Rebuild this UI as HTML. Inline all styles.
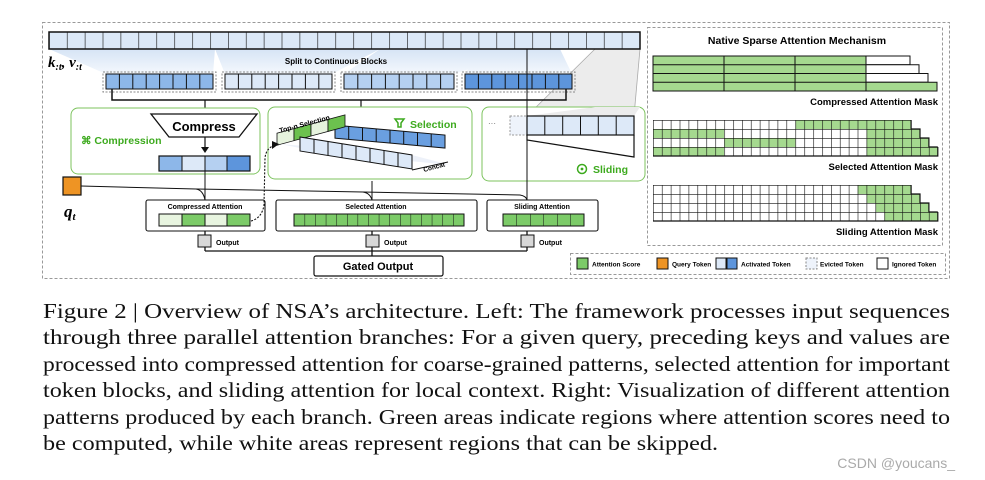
<!DOCTYPE html>
<html><head><meta charset="utf-8"><style>
html,body{margin:0;padding:0;background:#fff;width:985px;height:480px;overflow:hidden}
svg{display:block}
.b{font-family:"Liberation Sans",sans-serif;font-weight:bold}
.cap{font-family:"Liberation Serif",serif;font-size:21px;fill:#111}
</style></head><body>
<svg width="985" height="480" viewBox="0 0 985 480" xmlns="http://www.w3.org/2000/svg">
<defs>
<pattern id="top" patternUnits="userSpaceOnUse" x="49" y="0" width="17.9" height="480"><line x1="0" y1="0" x2="0" y2="480" stroke="#111" stroke-width="1.2"/></pattern>
<pattern id="gs" patternUnits="userSpaceOnUse" x="653" y="120" width="8.9" height="9"><path d="M0 0H8.9M0 0V9" fill="none" stroke="#111" stroke-width="1.2"/></pattern>
<pattern id="gw" patternUnits="userSpaceOnUse" x="653" y="185" width="8.9" height="9"><path d="M0 0H8.9M0 0V9" fill="none" stroke="#111" stroke-width="1.2"/></pattern>
<pattern id="sa" patternUnits="userSpaceOnUse" x="294" y="0" width="10.6" height="480"><line x1="0" y1="0" x2="0" y2="480" stroke="#111" stroke-width="1"/></pattern>
<pattern id="sl" patternUnits="userSpaceOnUse" x="503" y="0" width="13.5" height="480"><line x1="0" y1="0" x2="0" y2="480" stroke="#111" stroke-width="1"/></pattern>
<linearGradient id="fan" x1="0" y1="0" x2="0" y2="1"><stop offset="0" stop-color="#d6e4f5"/><stop offset="1" stop-color="#f4f8fd"/></linearGradient>
</defs>

<rect x="42.5" y="22.5" width="907" height="256" fill="none" stroke="#999" stroke-dasharray="3,2"/>
<polygon points="49,49 215,49 213,74 106,74" fill="url(#fan)"/>
<polygon points="215,49 380,49 332,74 225,74" fill="url(#fan)"/>
<polygon points="380,49 530,49 454,74 344,74" fill="url(#fan)"/>
<polygon points="480,49 560,49 572,74 465,74" fill="url(#fan)"/>
<polygon points="595,49 640,49 634,116 527,116" fill="#ececec"/>
<line x1="595" y1="49" x2="527" y2="116" stroke="#aaa" stroke-width="0.8"/>
<line x1="640" y1="49" x2="634" y2="116" stroke="#aaa" stroke-width="0.8"/>
<rect x="49" y="32" width="591" height="17" fill="#dbe8f7"/>
<rect x="49" y="32" width="591" height="17" fill="url(#top)"/>
<rect x="49" y="32" width="591" height="17" fill="none" stroke="#111" stroke-width="1.5"/>
<text x="48" y="67" font-family="Liberation Serif,serif" font-style="italic" font-weight="bold" font-size="15">k<tspan font-size="10" dy="3">:t</tspan><tspan dy="-3">, v</tspan><tspan font-size="10" dy="3">:t</tspan></text>
<text x="336" y="64" class="b" font-size="8" text-anchor="middle">Split to Continuous Blocks</text>
<g stroke="#888" stroke-dasharray="2,1.5" fill="none"><rect x="103" y="72" width="113" height="20"/><rect x="222" y="72" width="113" height="20"/><rect x="341" y="72" width="116" height="20"/><rect x="462" y="72" width="113" height="20"/></g>
<rect x="106" y="74" width="107" height="15" fill="#8db7e9"/>
<rect x="225" y="74" width="107" height="15" fill="#dde9f8"/>
<rect x="344" y="74" width="110" height="15" fill="#b5d0f1"/>
<rect x="465" y="74" width="107" height="15" fill="#5d95dc"/>
<g stroke="#111" stroke-width="1" fill="none">
<path d="M119.4 74v15M132.8 74v15M146.2 74v15M159.6 74v15M173 74v15M186.4 74v15M199.8 74v15"/>
<path d="M238.4 74v15M251.8 74v15M265.2 74v15M278.6 74v15M292 74v15M305.4 74v15M318.8 74v15"/>
<path d="M357.8 74v15M371.6 74v15M385.4 74v15M399.2 74v15M413 74v15M426.8 74v15M440.6 74v15"/>
<path d="M478.4 74v15M491.8 74v15M505.2 74v15M518.6 74v15M532 74v15M545.4 74v15M558.8 74v15"/>
<rect x="106" y="74" width="107" height="15"/><rect x="225" y="74" width="107" height="15"/><rect x="344" y="74" width="110" height="15"/><rect x="465" y="74" width="107" height="15"/>
</g>
<path d="M112 89v11h454v-11" fill="none" stroke="#111" stroke-width="1.5"/>
<line x1="205" y1="100" x2="205" y2="114" stroke="#111" stroke-width="1.2"/>
<line x1="361" y1="100" x2="361" y2="112" stroke="#111" stroke-width="1.2"/>
<polygon points="357,111 365,111 361,117" fill="#111"/>

<rect x="71" y="108" width="189" height="66" rx="7" fill="#fff" stroke="#7cc35e" stroke-width="1"/>
<polygon points="151,114 257,114 239,137 169,137" fill="#fff" stroke="#111" stroke-width="1.3"/>
<text x="204" y="131" class="b" font-size="13" text-anchor="middle">Compress</text>
<line x1="205" y1="137" x2="205" y2="148" stroke="#111" stroke-width="1.2"/>
<polygon points="201,147 209,147 205,153" fill="#111"/>
<text x="81" y="144" class="b" font-size="10.5" fill="#3daa1e">⌘ Compression</text>
<rect x="159" y="156" width="23" height="15" fill="#8db7e9"/><rect x="182" y="156" width="23" height="15" fill="#dde9f8"/><rect x="205" y="156" width="22" height="15" fill="#b5d0f1"/><rect x="227" y="156" width="23" height="15" fill="#5d95dc"/>
<path d="M182 156v15M205 156v15M227 156v15" stroke="#111"/>
<rect x="159" y="156" width="91" height="15" fill="none" stroke="#111" stroke-width="1.2"/>

<rect x="268" y="107" width="204" height="72" rx="7" fill="#fff" stroke="#7cc35e" stroke-width="1"/>
<text x="410" y="128" class="b" font-size="10.5" fill="#3daa1e">Selection</text>
<path d="M395 119h9l-3 4v4h-3v-4z" fill="none" stroke="#3daa1e" stroke-width="1.5"/>
<g transform="matrix(1,0.09,0,1,0,0)">
<rect x="335" y="95" width="110" height="13" fill="#6a9fe0" stroke="#111"/>
<path d="M348.7 95v13M362.5 95v13M376.2 95v13M390 95v13M403.7 95v13M417.5 95v13M431.2 95v13" stroke="#111"/>
</g>
<g transform="matrix(1,-0.27,0,1,0,0)">
<rect x="277" y="208" width="17" height="12" fill="#e6f3dd" stroke="#111" stroke-width="0.8"/>
<rect x="294" y="208" width="17" height="12" fill="#6cc14e" stroke="#111" stroke-width="0.8"/>
<rect x="311" y="208" width="17" height="12" fill="#e6f3dd" stroke="#111" stroke-width="0.8"/>
<rect x="328" y="208" width="17" height="12" fill="#6cc14e" stroke="#111" stroke-width="0.8"/>
</g>
<text class="b" font-size="7" transform="translate(280,133) rotate(-15)">Top-n Selection</text>
<polygon points="280,144 412,155 450,165 320,152" fill="#e8eef8" opacity="0.8"/>
<g transform="matrix(1,0.16,0,1,0,0)">
<rect x="300" y="89" width="112" height="14" fill="#dde9f8" stroke="#111"/>
<path d="M314 89v14M328 89v14M342 89v14M356 89v14M370 89v14M384 89v14M398 89v14" stroke="#111"/>
</g>
<path d="M412 170l36 -8" stroke="#111" fill="none"/>
<text class="b" font-size="6.5" transform="translate(424,172) rotate(-15)">Concat</text>

<rect x="482" y="107" width="163" height="74" rx="7" fill="#fff" stroke="#7cc35e" stroke-width="1"/>
<polygon points="595,107 640,107 634,116 527,116" fill="#ececec"/>
<text x="488" y="126" font-size="8" font-family="Liberation Sans,sans-serif" fill="#666">···</text>
<rect x="510" y="116" width="17" height="19" fill="#eef3fb" stroke="#999" stroke-dasharray="2,1.5"/>
<rect x="527" y="116" width="107" height="19" fill="#dde9f8" stroke="#111" stroke-width="1.2"/>
<path d="M544.8 116v19M562.7 116v19M580.5 116v19M598.3 116v19M616.2 116v19" stroke="#111"/>
<path d="M527 135v5l107 17v-22" fill="none" stroke="#111" stroke-width="1.2"/>
<circle cx="582" cy="169" r="4.5" fill="none" stroke="#3daa1e" stroke-width="1.5"/>
<circle cx="582" cy="169" r="1.4" fill="#3daa1e"/>
<text x="593" y="173" class="b" font-size="10.5" fill="#3daa1e">Sliding</text>
<line x1="527" y1="49" x2="527" y2="200" stroke="#111" stroke-width="1"/>

<rect x="63" y="177" width="18" height="18" fill="#ee9424" stroke="#111" stroke-width="1.2"/>
<text x="64" y="217" font-family="Liberation Serif,serif" font-style="italic" font-weight="bold" font-size="17">q<tspan font-size="11" dy="3">t</tspan></text>
<path d="M81 186 L196 189 Q203 190 205 200" fill="none" stroke="#111"/>
<path d="M196 189 L363 192 Q370 193 372 200" fill="none" stroke="#111"/>
<path d="M363 192 L520 195 Q526 196 527 200" fill="none" stroke="#111"/>
<line x1="205" y1="171" x2="205" y2="200" stroke="#111"/>
<line x1="372" y1="181" x2="372" y2="200" stroke="#111"/>

<rect x="146" y="200" width="119" height="31" rx="2" fill="#fff" stroke="#111" stroke-width="1.1"/>
<text x="205" y="209" class="b" font-size="7" text-anchor="middle">Compressed Attention</text>
<rect x="159" y="214" width="23" height="12" fill="#e8f5e0"/><rect x="182" y="214" width="23" height="12" fill="#7ccb68"/><rect x="205" y="214" width="22" height="12" fill="#e8f5e0"/><rect x="227" y="214" width="23" height="12" fill="#7ccb68"/>
<path d="M182 214v12M205 214v12M227 214v12" stroke="#111"/>
<rect x="159" y="214" width="91" height="12" fill="none" stroke="#111"/>
<path d="M251 221 Q262 218 264 205 L265 158 Q266 148 275 145" fill="none" stroke="#111" stroke-dasharray="2,1.5" stroke-width="1.1"/>
<polygon points="272,141 279,144 272,149" fill="#111"/>

<rect x="276" y="200" width="201" height="31" rx="2" fill="#fff" stroke="#111" stroke-width="1.1"/>
<text x="376" y="209" class="b" font-size="7" text-anchor="middle">Selected Attention</text>
<rect x="294" y="214" width="170" height="12" fill="#7ccb68"/>
<rect x="294" y="214" width="170" height="12" fill="url(#sa)"/>
<rect x="294" y="214" width="170" height="12" fill="none" stroke="#111"/>

<rect x="487" y="200" width="111" height="31" rx="2" fill="#fff" stroke="#111" stroke-width="1.1"/>
<text x="542" y="209" class="b" font-size="7" text-anchor="middle">Sliding Attention</text>
<rect x="503" y="214" width="81" height="12" fill="#7ccb68"/>
<rect x="503" y="214" width="81" height="12" fill="url(#sl)"/>
<rect x="503" y="214" width="81" height="12" fill="none" stroke="#111"/>

<path d="M205 231v20M372 231v20M527 231v20M205 251h322M372 251v6" stroke="#111" stroke-width="1.3" fill="none"/>
<rect x="198" y="235" width="13" height="12" fill="#d8d8d8" stroke="#111"/>
<rect x="366" y="235" width="13" height="12" fill="#d8d8d8" stroke="#111"/>
<rect x="521" y="235" width="13" height="12" fill="#d8d8d8" stroke="#111"/>
<text x="216" y="245" class="b" font-size="7">Output</text>
<text x="384" y="245" class="b" font-size="7">Output</text>
<text x="539" y="245" class="b" font-size="7">Output</text>
<rect x="314" y="256" width="129" height="20" rx="2" fill="#fff" stroke="#111" stroke-width="1.2"/>
<text x="378" y="270" class="b" font-size="11" text-anchor="middle">Gated Output</text>

<rect x="647.5" y="27.5" width="295" height="218" fill="#fff" stroke="#999" stroke-dasharray="3,2"/>
<text x="797" y="44" class="b" font-size="10.5" text-anchor="middle">Native Sparse Attention Mechanism</text>
<g stroke="#111" stroke-width="1">
<rect x="653" y="56" width="213" height="35" fill="#a5d98f"/>
<rect x="866" y="56" width="44" height="8.75" fill="#fff"/>
<rect x="866" y="64.75" width="53" height="8.75" fill="#fff"/>
<rect x="866" y="73.5" width="62" height="8.75" fill="#fff"/>
<rect x="866" y="82.25" width="71" height="8.75" fill="#a5d98f"/>
<path d="M653 64.75h213M653 73.5h213M653 82.25h213M724 56v35M795 56v35" fill="none"/>
</g>
<text x="938" y="105" class="b" font-size="9.5" text-anchor="end">Compressed Attention Mask</text>

<g>
<rect x="653" y="120" width="258.1" height="9" fill="#fff"/>
<rect x="795.4" y="120" width="115.7" height="9" fill="#a5d98f"/>
<rect x="653" y="129" width="267" height="9" fill="#fff"/>
<rect x="653" y="129" width="71.2" height="9" fill="#a5d98f"/>
<rect x="866.6" y="129" width="53.4" height="9" fill="#a5d98f"/>
<rect x="653" y="138" width="275.9" height="9" fill="#fff"/>
<rect x="724.2" y="138" width="71.2" height="9" fill="#a5d98f"/>
<rect x="866.6" y="138" width="62.3" height="9" fill="#a5d98f"/>
<rect x="653" y="147" width="284.8" height="9" fill="#fff"/>
<rect x="653" y="147" width="71.2" height="9" fill="#a5d98f"/>
<rect x="866.6" y="147" width="71.2" height="9" fill="#a5d98f"/>
<rect x="653" y="120" width="258.1" height="9" fill="url(#gs)"/>
<rect x="653" y="129" width="267" height="9" fill="url(#gs)"/>
<rect x="653" y="138" width="275.9" height="9" fill="url(#gs)"/>
<rect x="653" y="147" width="284.8" height="9" fill="url(#gs)"/>
<path d="M653 156H937.8V147M911.1 120V129H920V138H928.9V147H937.8" fill="none" stroke="#111" stroke-width="1.2"/>
</g>
<text x="938" y="170" class="b" font-size="9.5" text-anchor="end">Selected Attention Mask</text>

<g>
<rect x="653" y="185" width="258.1" height="9" fill="#fff"/>
<rect x="857.7" y="185" width="53.4" height="9" fill="#a5d98f"/>
<rect x="653" y="194" width="267" height="9" fill="#fff"/>
<rect x="866.6" y="194" width="53.4" height="9" fill="#a5d98f"/>
<rect x="653" y="203" width="275.9" height="9" fill="#fff"/>
<rect x="875.5" y="203" width="53.4" height="9" fill="#a5d98f"/>
<rect x="653" y="212" width="284.8" height="9" fill="#fff"/>
<rect x="884.4" y="212" width="53.4" height="9" fill="#a5d98f"/>
<rect x="653" y="185" width="258.1" height="9" fill="url(#gw)"/>
<rect x="653" y="194" width="267" height="9" fill="url(#gw)"/>
<rect x="653" y="203" width="275.9" height="9" fill="url(#gw)"/>
<rect x="653" y="212" width="284.8" height="9" fill="url(#gw)"/>
<path d="M653 221H937.8V212M911.1 185V194H920V203H928.9V212H937.8" fill="none" stroke="#111" stroke-width="1.2"/>
</g>
<text x="938" y="235" class="b" font-size="9.5" text-anchor="end">Sliding Attention Mask</text>

<rect x="570.5" y="253.5" width="375" height="21" fill="#fff" stroke="#999" stroke-dasharray="3,2"/>
<rect x="577" y="258" width="11" height="11" fill="#7ccb68" stroke="#111"/>
<text x="592" y="266.5" class="b" font-size="6.5">Attention Score</text>
<rect x="657" y="258" width="11" height="11" fill="#ee9424" stroke="#111"/>
<text x="672" y="266.5" class="b" font-size="6.5">Query Token</text>
<rect x="716" y="258" width="10" height="11" fill="#dde9f8" stroke="#111"/>
<rect x="727" y="258" width="10" height="11" fill="#5d95dc" stroke="#111"/>
<text x="741" y="266.5" class="b" font-size="6.5">Activated Token</text>
<rect x="806" y="258" width="11" height="11" fill="#eef3fb" stroke="#888" stroke-dasharray="2,1.5"/>
<text x="820" y="266.5" class="b" font-size="6.5">Evicted Token</text>
<rect x="877" y="258" width="11" height="11" fill="#fff" stroke="#111"/>
<text x="892" y="266.5" class="b" font-size="6.5">Ignored Token</text>

<text class="cap" x="43" y="318" textLength="907" lengthAdjust="spacingAndGlyphs">Figure 2 | Overview of NSA’s architecture.  Left:  The framework processes input sequences</text>
<text class="cap" x="43" y="344" textLength="907" lengthAdjust="spacingAndGlyphs">through three parallel attention branches:  For a given query, preceding keys and values are</text>
<text class="cap" x="43" y="371" textLength="907" lengthAdjust="spacingAndGlyphs">processed into compressed attention for coarse-grained patterns, selected attention for important</text>
<text class="cap" x="43" y="397" textLength="907" lengthAdjust="spacingAndGlyphs">token blocks, and sliding attention for local context. Right: Visualization of different attention</text>
<text class="cap" x="43" y="424" textLength="907" lengthAdjust="spacingAndGlyphs">patterns produced by each branch. Green areas indicate regions where attention scores need to</text>
<text class="cap" x="43" y="450" textLength="675" lengthAdjust="spacingAndGlyphs">be computed, while white areas represent regions that can be skipped.</text>
<text x="955" y="468" font-family="Liberation Sans,sans-serif" font-size="14" fill="#aaa" text-anchor="end">CSDN @youcans_</text>
</svg>
</body></html>
